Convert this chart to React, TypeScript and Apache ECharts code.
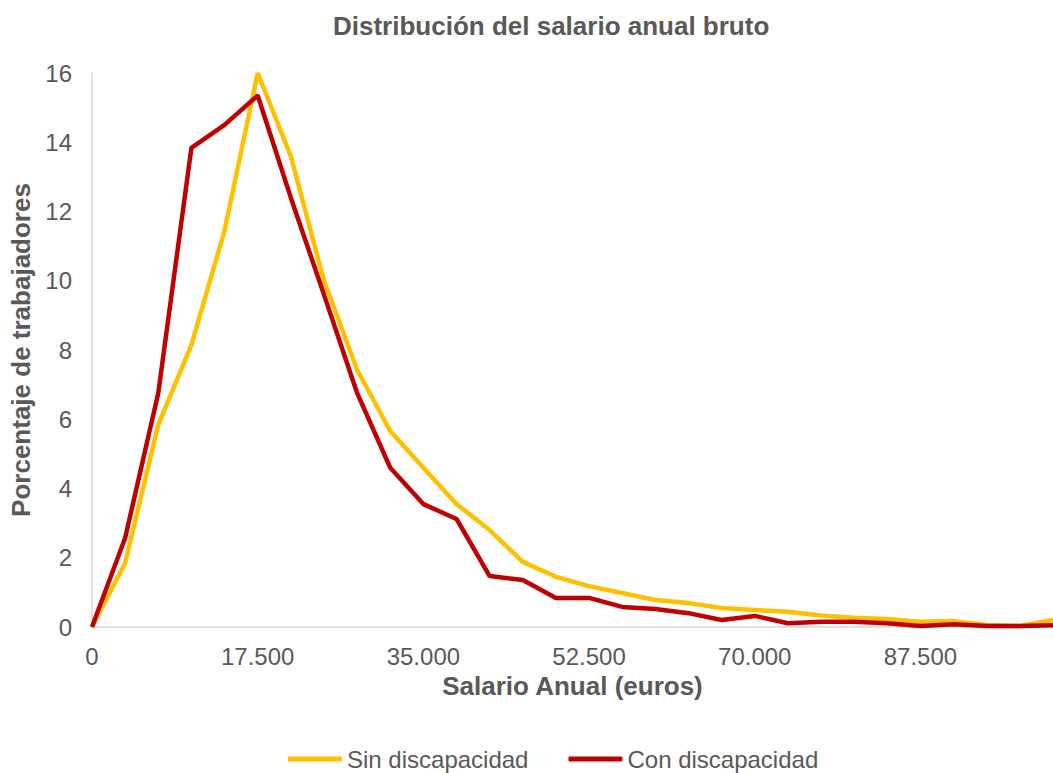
import React, { useEffect, useRef } from "react";
import * as echarts from "echarts";

const salaryBins = [
  0, 3500, 7000, 10500, 14000, 17500, 21000, 24500, 28000, 31500,
  35000, 38500, 42000, 45500, 49000, 52500, 56000, 59500, 63000, 66500,
  70000, 73500, 77000, 80500, 84000, 87500, 91000, 94500, 98000, 101500,
];
const sinDiscapacidad = [
  0, 1.85, 5.84, 8.15, 11.45, 16.0, 13.6, 10.0, 7.43, 5.66,
  4.6, 3.55, 2.8, 1.88, 1.45, 1.18, 0.98, 0.78, 0.69, 0.55,
  0.49, 0.44, 0.33, 0.27, 0.23, 0.15, 0.17, 0.06, 0.03, 0.2,
];
const conDiscapacidad = [
  0, 2.57, 6.76, 13.84, 14.5, 15.35, 12.4, 9.6, 6.76, 4.6,
  3.55, 3.12, 1.47, 1.36, 0.84, 0.84, 0.58, 0.52, 0.4, 0.2,
  0.32, 0.11, 0.15, 0.15, 0.11, 0.03, 0.08, 0.03, 0.03, 0.05,
];
const seriesNames = ["Sin discapacidad", "Con discapacidad"];
const seriesColors = ["#FFC000", "#C00000"];

const FONT = "'Liberation Sans', Arial, sans-serif";
const GRAY = "#595959";

export default function App() {
  const ref = useRef<HTMLDivElement>(null);
  useEffect(() => {
    document.body.style.margin = "0";
    const chart = echarts.init(ref.current!, undefined, { renderer: "svg" });
    const fmt = (v: number) =>
      String(Math.round(v)).replace(/\B(?=(\d{3})+(?!\d))/g, ".");
    chart.setOption({
      animation: false,
      backgroundColor: "#ffffff",
      textStyle: { fontFamily: FONT },
      title: {
        text: "Distribución del salario anual bruto",
        left: 328,
        top: 8,
        textStyle: { fontFamily: FONT, fontSize: 26, fontWeight: "bold", color: GRAY },
      },
      legend: {
        top: 742,
        left: 283,
        icon: "roundRect",
        itemWidth: 54,
        itemHeight: 5,
        itemGap: 40,
        textStyle: { fontFamily: FONT, fontSize: 24, color: GRAY },
        data: seriesNames,
      },
      grid: { left: 92, right: 0, top: 73, bottom: 146 },
      xAxis: {
        type: "value",
        min: 0,
        max: 101500,
        interval: 17500,
        name: "Salario Anual (euros)",
        nameLocation: "middle",
        nameGap: 43,
        nameTextStyle: { fontFamily: FONT, fontSize: 26, fontWeight: "bold", color: GRAY },
        axisLine: { show: true, lineStyle: { color: "#D9D9D9", width: 1.5 } },
        axisTick: { show: false },
        splitLine: { show: false },
        axisLabel: {
          fontFamily: FONT,
          fontSize: 24,
          color: GRAY,
          margin: 17,
          showMaxLabel: false,
          formatter: fmt,
        },
      },
      yAxis: {
        type: "value",
        min: 0,
        max: 16,
        interval: 2,
        name: "Porcentaje de trabajadores",
        nameLocation: "middle",
        nameGap: 55,
        nameTextStyle: { fontFamily: FONT, fontSize: 26, fontWeight: "bold", color: GRAY },
        axisLine: { show: true, lineStyle: { color: "#D9D9D9", width: 1.5 } },
        axisTick: { show: false },
        splitLine: { show: false },
        axisLabel: { fontFamily: FONT, fontSize: 24, color: GRAY, margin: 20 },
      },
      series: [sinDiscapacidad, conDiscapacidad].map((vals, k) => ({
        name: seriesNames[k],
        type: "line",
        symbol: "none",
        data: salaryBins.map((b, i) => [b, vals[i]]),
        lineStyle: { color: seriesColors[k], width: 4.5 },
        itemStyle: { color: seriesColors[k] },
        z: k + 2,
      })),
    });
    return () => chart.dispose();
  }, []);
  return (
    <div
      ref={ref}
      style={{ position: "absolute", left: 0, top: 0, width: 1053, height: 773 }}
    />
  );
}
